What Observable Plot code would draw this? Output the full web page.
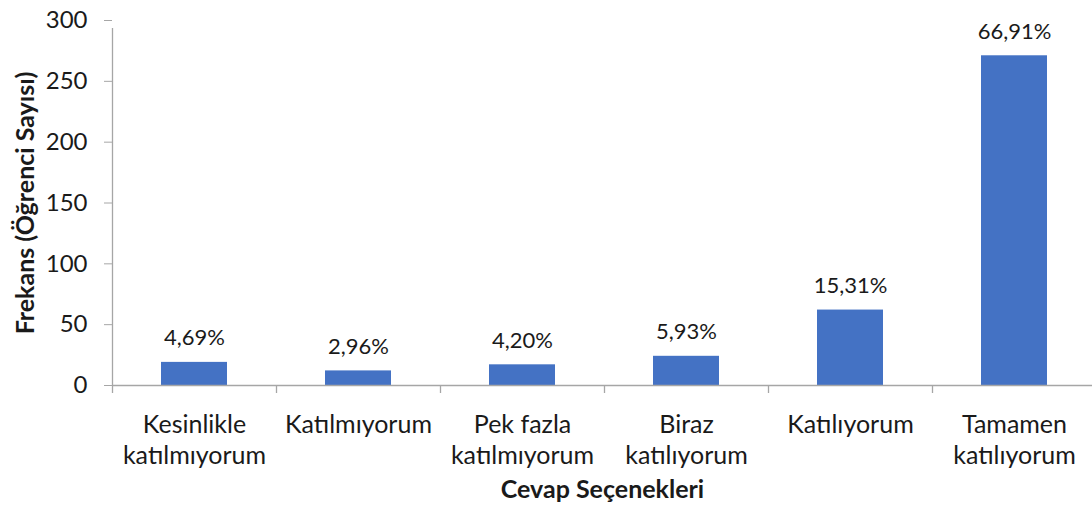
<!DOCTYPE html>
<html>
<head>
<meta charset="utf-8">
<script src="https://cdn.jsdelivr.net/npm/d3@7"></script>
<script src="https://cdn.jsdelivr.net/npm/@observablehq/plot@0.6"></script>
<style>
  html, body { margin: 0; padding: 0; background: #fff; }
</style>
</head>
<body>
<div id="chart"></div>
<script>
const categories = ["Kesinlikle katılmıyorum", "Katılmıyorum", "Pek fazla katılmıyorum", "Biraz katılıyorum", "Katılıyorum", "Tamamen katılıyorum"];
const categoryLabels = ["Kesinlikle\nkatılmıyorum", "Katılmıyorum", "Pek fazla\nkatılmıyorum", "Biraz\nkatılıyorum", "Katılıyorum", "Tamamen\nkatılıyorum"];
const counts = [19, 12, 17, 24, 62, 271];
const percents = ["4,69%", "2,96%", "4,20%", "5,93%", "15,31%", "66,91%"];
const yTicks = [0, 50, 100, 150, 200, 250, 300];
const yLabel = "Frekans (Öğrenci Sayısı)";
const xLabel = "Cevap Seçenekleri";

const data = categories.map((c, i) => ({cat: c, label: categoryLabels[i], count: counts[i], pct: percents[i]}));

const W = 1092, H = 507;
const mL = 112, mR = 0, mT = 20, mB = 122;
const xRange = [112, 1096];
const step = (xRange[1] - xRange[0]) / categories.length;
const gray = "#a6a6a6";
const ink = "#1a1a1a";

const chart = Plot.plot({
  width: W,
  height: H,
  marginLeft: mL,
  marginRight: mR,
  marginTop: mT,
  marginBottom: mB,
  style: {fontFamily: "Lato, 'Open Sans', sans-serif", fontSize: "24px", color: ink, background: "#fff"},
  x: {domain: categories, range: xRange, padding: 0, axis: null},
  y: {domain: [0, 300], axis: null},
  marks: [
    Plot.barY(data, {x: "cat", y: "count", fill: "#4472C4", insetLeft: 49, insetRight: 49}),
    Plot.ruleY([0], {stroke: gray, strokeWidth: 1.3}),
    Plot.ruleX([categories[0]], {dx: -step / 2, y1: 0, y2: 300, insetBottom: -8, stroke: gray, strokeWidth: 1.3}),
    Plot.ruleX(categories, {x: d => d, dx: -step / 2, y1: 0, y2: 0, insetBottom: -8, stroke: gray, strokeWidth: 1.3}),
    Plot.axisY({ticks: yTicks, tickSize: 8, tickPadding: 17, stroke: gray, fill: ink, label: null, fontSize: 24}),
    Plot.text(data, {x: "cat", y: 0, text: "label", dy: 25, lineAnchor: "top", lineHeight: 1.24, fill: ink, fontSize: 25}),
    Plot.text(data, {x: "cat", y: "count", text: "pct", dy: -17, lineAnchor: "bottom", fill: ink, fontSize: 22}),
    Plot.text([yLabel], {frameAnchor: "left", dx: -87, rotate: -90, textAnchor: "middle", fontWeight: "bold", fill: ink, fontSize: 25}),
    Plot.text([xLabel], {frameAnchor: "bottom", dy: 112, fontWeight: "bold", fill: ink, fontSize: 25})
  ]
});
document.getElementById("chart").appendChild(chart);
</script>
</body>
</html>
